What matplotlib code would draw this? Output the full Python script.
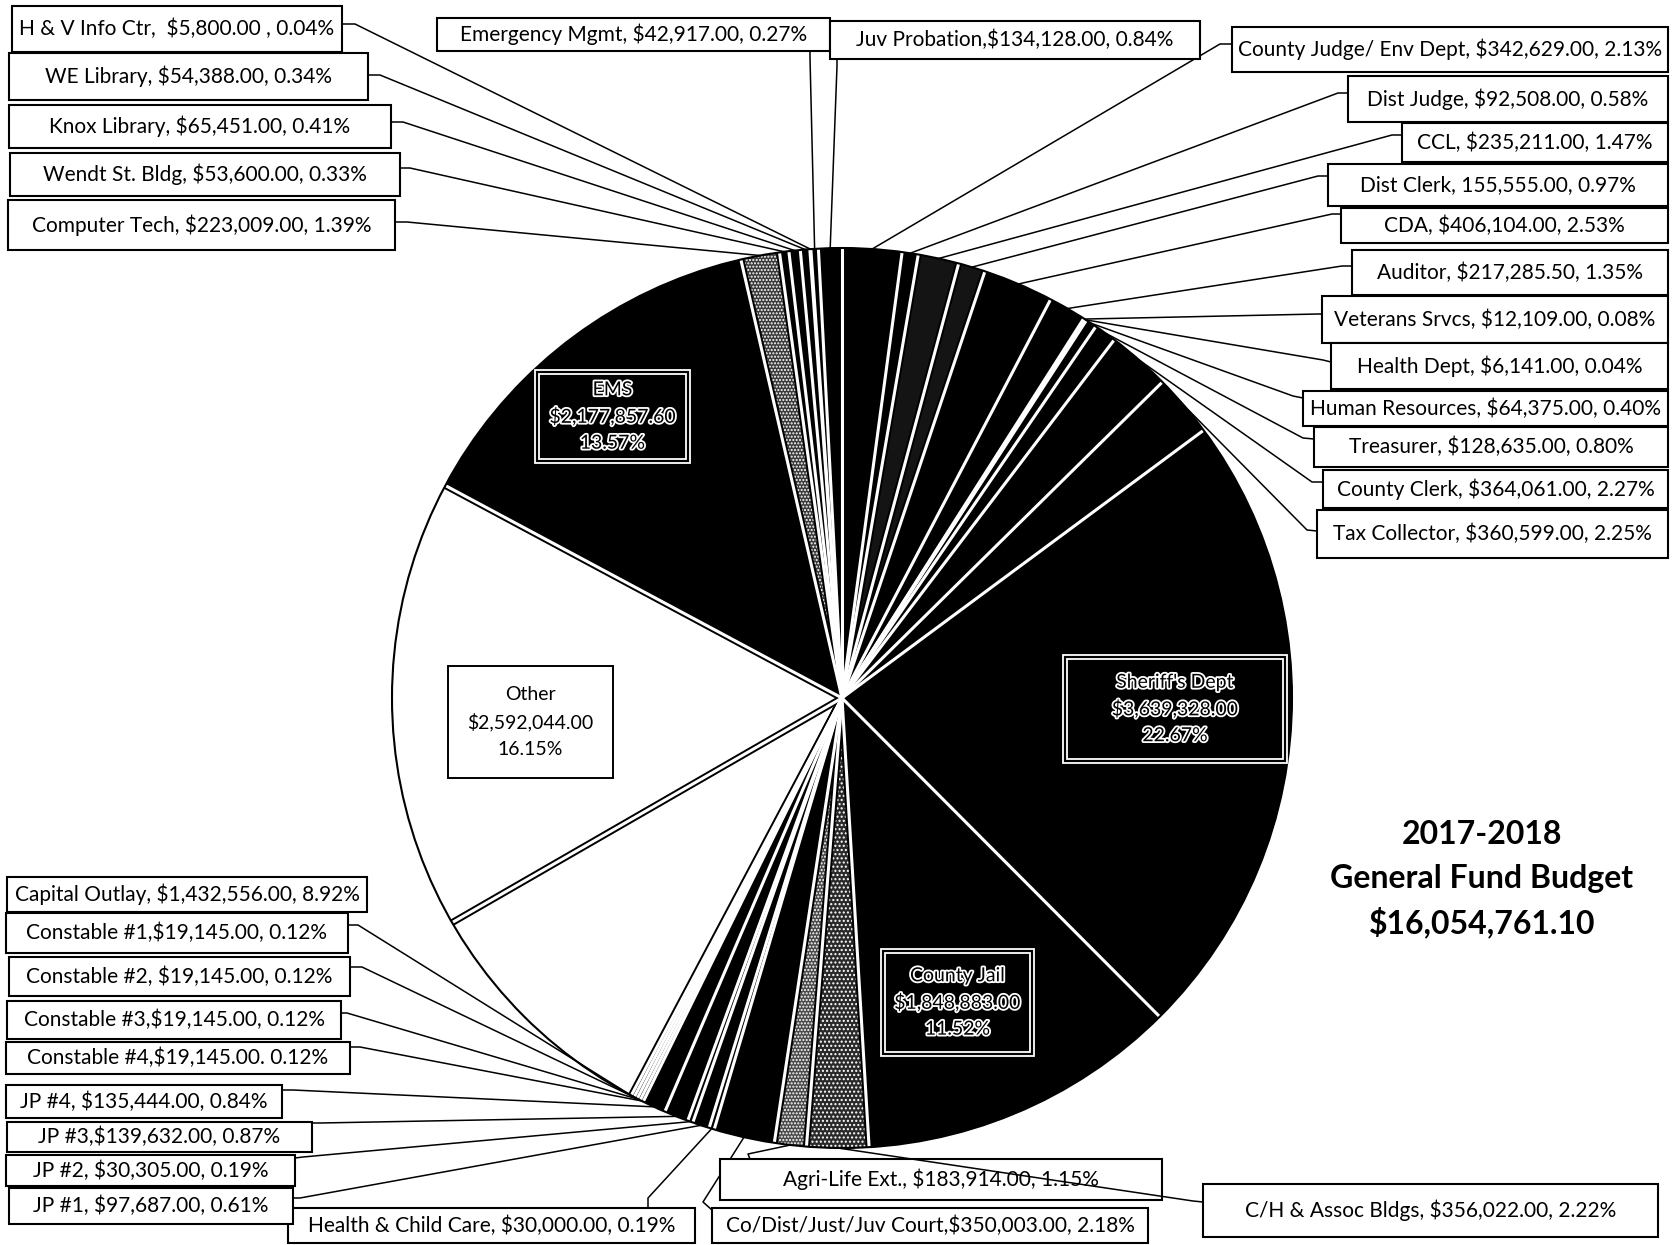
import numpy as np
import matplotlib
matplotlib.use("Agg")
import matplotlib.pyplot as plt
from matplotlib.patches import Rectangle, Circle
import matplotlib.patheffects as pe

plt.rcParams['font.family'] = ['Lato', 'DejaVu Sans']
plt.rcParams['hatch.linewidth'] = 1.0

W, H = 1672, 1245

# ---- budget data, clockwise from 12 o'clock ----
departments = [
    "County Judge/ Env Dept", "Dist Judge", "CCL", "Dist Clerk", "CDA", "Auditor",
    "Veterans Srvcs", "Health Dept", "Human Resources", "Treasurer", "County Clerk",
    "Tax Collector", "Sheriff's Dept", "County Jail", "C/H & Assoc Bldgs",
    "Agri-Life Ext.", "Co/Dist/Just/Juv Court", "Health & Child Care", "JP #1",
    "JP #2", "JP #3", "JP #4", "Constable #4", "Constable #3", "Constable #2",
    "Constable #1", "Capital Outlay", "Other", "EMS", "Computer Tech",
    "Wendt St. Bldg", "Knox Library", "WE Library", "H & V Info Ctr",
    "Emergency Mgmt", "Juv Probation",
]
amounts = [
    342629.00, 92508.00, 235211.00, 155555.00, 406104.00, 217285.50,
    12109.00, 6141.00, 64375.00, 128635.00, 364061.00,
    360599.00, 3639328.00, 1848883.00, 356022.00,
    183914.00, 350003.00, 30000.00, 97687.00,
    30305.00, 139632.00, 135444.00, 19145.00, 19145.00, 19145.00,
    19145.00, 1432556.00, 2592044.00, 2177857.60, 223009.00,
    53600.00, 65451.00, 54388.00, 5800.00,
    42917.00, 134128.00,
]
slice_labels = [
    "County Judge/ Env Dept, $342,629.00, 2.13%", "Dist Judge, $92,508.00, 0.58%",
    "CCL, $235,211.00, 1.47%", "Dist Clerk, 155,555.00, 0.97%",
    "CDA, $406,104.00, 2.53%", "Auditor, $217,285.50, 1.35%",
    "Veterans Srvcs, $12,109.00, 0.08%", "Health Dept, $6,141.00, 0.04%",
    "Human Resources, $64,375.00, 0.40%", "Treasurer, $128,635.00, 0.80%",
    "County Clerk, $364,061.00, 2.27%", "Tax Collector, $360,599.00, 2.25%",
    "Sheriff's Dept\n$3,639,328.00\n22.67%", "County Jail\n$1,848,883.00\n11.52%",
    "C/H & Assoc Bldgs, $356,022.00, 2.22%", "Agri-Life Ext., $183,914.00, 1.15%",
    "Co/Dist/Just/Juv Court,$350,003.00, 2.18%", "Health & Child Care, $30,000.00, 0.19%",
    "JP #1, $97,687.00, 0.61%", "JP #2, $30,305.00, 0.19%",
    "JP #3,$139,632.00, 0.87%", "JP #4, $135,444.00, 0.84%",
    "Constable #4,$19,145.00. 0.12%", "Constable #3,$19,145.00, 0.12%",
    "Constable #2, $19,145.00, 0.12%", "Constable #1,$19,145.00, 0.12%",
    "Capital Outlay, $1,432,556.00, 8.92%", "Other\n$2,592,044.00\n16.15%",
    "EMS\n$2,177,857.60\n13.57%", "Computer Tech, $223,009.00, 1.39%",
    "Wendt St. Bldg, $53,600.00, 0.33%", "Knox Library, $65,451.00, 0.41%",
    "WE Library, $54,388.00, 0.34%", "H & V Info Ctr,  $5,800.00 , 0.04%",
    "Emergency Mgmt, $42,917.00, 0.27%", "Juv Probation,$134,128.00, 0.84%",
]
title_lines = ["2017-2018", "General Fund Budget"]

# ---- slice fills ----
white_slices = {"Health & Child Care", "JP #2", "Constable #4", "Constable #3",
                "Constable #2", "Constable #1", "Capital Outlay", "Other"}
dark_grey = {"CCL": "#141414", "Dist Clerk": "#141414", "C/H & Assoc Bldgs": "#2a2a2a",
             "Agri-Life Ext.": "#4a4a4a", "Computer Tech": "#3a3a3a"}
speckle = {"C/H & Assoc Bldgs": "....", "Agri-Life Ext.": ".....",
           "Computer Tech": "....."}
face_colors = ["white" if d in white_slices else dark_grey.get(d, "black")
               for d in departments]
hatches = [speckle.get(d, "") for d in departments]

# ---- label boxes (pixel coords, y down): box, attach point, stub point ----
callouts = {
    "H & V Info Ctr": ((12, 6, 342, 52), (342, 24), (355, 24)),
    "WE Library": ((9, 53, 368, 100), (368, 75), (380, 75)),
    "Knox Library": ((9, 105, 391, 148), (391, 122), (403, 122)),
    "Wendt St. Bldg": ((10, 153, 400, 196), (400, 168), (410, 168)),
    "Computer Tech": ((8, 200, 395, 250), (395, 222), (407, 222)),
    "Emergency Mgmt": ((437, 18, 830, 51), (810, 51), (810, 58)),
    "Juv Probation": ((830, 21, 1200, 59), (837, 59), (837, 66)),
    "County Judge/ Env Dept": ((1232, 27, 1668, 72), (1232, 44), (1220, 44)),
    "Dist Judge": ((1348, 76, 1668, 122), (1348, 93), (1338, 93)),
    "CCL": ((1402, 123, 1668, 162), (1402, 135), (1392, 135)),
    "Dist Clerk": ((1328, 164, 1668, 206), (1328, 176), (1318, 176)),
    "CDA": ((1341, 208, 1668, 243), (1341, 214), (1332, 214)),
    "Auditor": ((1352, 250, 1668, 295), (1352, 266), (1342, 266)),
    "Veterans Srvcs": ((1322, 296, 1668, 343), (1322, 314), (1318, 314)),
    "Health Dept": ((1331, 343, 1668, 389), (1331, 362), (1323, 360)),
    "Human Resources": ((1303, 391, 1668, 426), (1303, 398), (1293, 396)),
    "Treasurer": ((1314, 427, 1668, 467), (1314, 439), (1303, 438)),
    "County Clerk": ((1323, 470, 1668, 508), (1323, 482), (1312, 482)),
    "Tax Collector": ((1317, 510, 1668, 558), (1317, 531), (1307, 530)),
    "Capital Outlay": ((7, 877, 367, 912), None, None),
    "Constable #1": ((6, 913, 348, 953), (348, 925), (358, 925)),
    "Constable #2": ((9, 957, 350, 996), (350, 967), (362, 967)),
    "Constable #3": ((7, 1001, 341, 1039), (341, 1013), (347, 1013)),
    "Constable #4": ((6, 1042, 350, 1074), (350, 1047), (360, 1047)),
    "JP #4": ((6, 1085, 282, 1118), (282, 1090), (293, 1090)),
    "JP #3": ((7, 1122, 312, 1152), (312, 1123), (320, 1123)),
    "JP #2": ((6, 1155, 295, 1186), (295, 1158), (303, 1157)),
    "JP #1": ((9, 1188, 293, 1224), (293, 1198), (300, 1198)),
    "Health & Child Care": ((288, 1208, 695, 1243), (648, 1208), (648, 1198)),
    "Agri-Life Ext.": ((720, 1159, 1162, 1200), (750, 1159), (748, 1154)),
    "Co/Dist/Just/Juv Court": ((712, 1208, 1148, 1243), (712, 1210), (703, 1202)),
    "C/H & Assoc Bldgs": ((1203, 1184, 1658, 1237), (1203, 1202), (1193, 1201)),
}
# leaders that run across a neighbouring box
over_boxes = {"C/H & Assoc Bldgs"}

# ---- boxed labels drawn inside big slices ----
inner = {
    "Sheriff's Dept": ((1063, 655, 1287, 763), "dark"),
    "County Jail": ((881, 949, 1034, 1056), "dark"),
    "EMS": ((535, 370, 690, 463), "dark"),
    "Other": ((448, 666, 613, 778), "light"),
}


def Y(y):
    return H - y


fig = plt.figure(figsize=(W / 100, H / 100), dpi=100)
fig.patch.set_facecolor("white")
ax = fig.add_axes([0, 0, 1, 1])

cx, cy, R = 842, Y(698), 450
wedges, _ = ax.pie(amounts, colors=face_colors, hatch=hatches, startangle=90,
                   counterclock=False, center=(cx, cy), radius=R,
                   wedgeprops=dict(edgecolor="white", linewidth=0))

# slice separators: black outline with a white gap in the middle
bounds = sorted({round(w.theta1 % 360, 6) for w in wedges})
for a in bounds:
    t = np.deg2rad(a)
    xs = [cx, cx + R * np.cos(t)]
    ys = [cy, cy + R * np.sin(t)]
    ax.plot(xs, ys, color="black", lw=5.0, solid_capstyle="butt", zorder=2)
for a in bounds:
    t = np.deg2rad(a)
    xs = [cx, cx + R * np.cos(t)]
    ys = [cy, cy + R * np.sin(t)]
    ax.plot(xs, ys, color="white", lw=2.2, solid_capstyle="butt", zorder=3)
ax.add_patch(Circle((cx, cy), R, fill=False, ec="black", lw=1.5, zorder=3))

# outside labels with leader lines
for w, dep, txt in zip(wedges, departments, slice_labels):
    if dep not in callouts:
        continue
    (x0, y0, x1, y1), attach, stub = callouts[dep]
    ax.add_patch(Rectangle((x0, Y(y1)), x1 - x0, y1 - y0, fc="white", ec="black",
                           lw=1.5, zorder=5))
    ax.text((x0 + x1) / 2, Y((y0 + y1) / 2), txt, ha="center", va="center",
            fontsize=15, color="black", zorder=6)
    if attach is not None:
        mid = np.deg2rad((w.theta1 + w.theta2) / 2)
        ax_, ay_ = cx + R * np.cos(mid), cy + R * np.sin(mid)
        z = 7 if dep in over_boxes else 4
        ax.plot([attach[0], stub[0], ax_], [Y(attach[1]), Y(stub[1]), ay_],
                color="black", lw=1.1, zorder=z)

# labels inside the large slices
outline = [pe.withStroke(linewidth=2.6, foreground="white")]
for dep, txt in zip(departments, slice_labels):
    if dep not in inner:
        continue
    (x0, y0, x1, y1), kind = inner[dep]
    xc, yc = (x0 + x1) / 2, (y0 + y1) / 2
    lines = txt.split("\n")
    if kind == "dark":
        ax.add_patch(Rectangle((x0, Y(y1)), x1 - x0, y1 - y0, fc="black", ec="white",
                               lw=1.3, zorder=5))
        ax.add_patch(Rectangle((x0 + 4, Y(y1 - 4)), x1 - x0 - 8, y1 - y0 - 8,
                               fc="none", ec="white", lw=1.3, zorder=5))
        for i, ln in enumerate(lines):
            ax.text(xc, Y(yc + (i - 1) * 26.7), ln, ha="center", va="center",
                    fontsize=14, color="black", path_effects=outline, zorder=6)
    else:
        ax.add_patch(Rectangle((x0, Y(y1)), x1 - x0, y1 - y0, fc="white", ec="black",
                               lw=1.4, zorder=5))
        for i, ln in enumerate(lines):
            ax.text(xc, Y(yc + (i - 1) * 27.5), ln, ha="center", va="center",
                    fontsize=14, color="black", zorder=6)

# title block with the fund total
total = sum(amounts)
for i, ln in enumerate(title_lines + [f"${total:,.2f}"]):
    ax.text(1482, Y(835 + i * 43.5), ln, ha="center", va="center",
            fontsize=23, fontweight="bold", color="black")

ax.set_xlim(0, W)
ax.set_ylim(0, H)
ax.set_aspect("equal")
ax.axis("off")
fig.savefig("out.png", dpi=100, facecolor="white")
